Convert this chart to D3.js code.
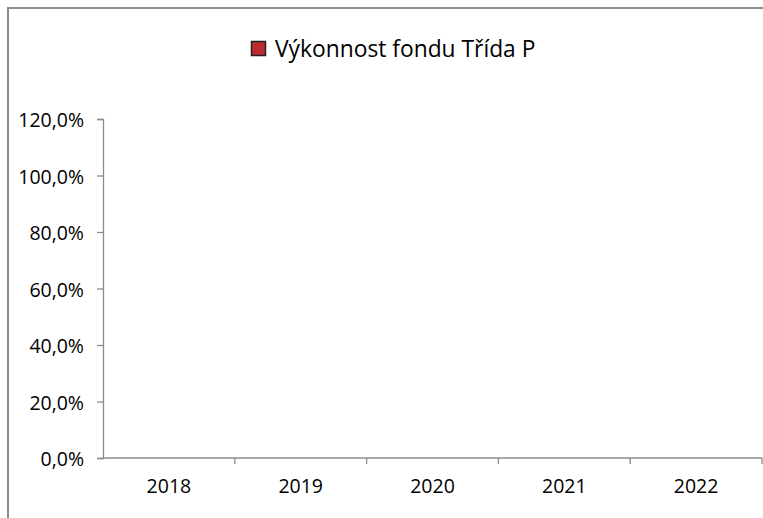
<!DOCTYPE html>
<html>
<head>
<meta charset="utf-8">
<script src="https://cdn.jsdelivr.net/npm/d3@7"></script>
<style>
  html, body { margin: 0; padding: 0; background: #fff; overflow: hidden; }
  svg { display: block; font-family: "Open Sans", sans-serif; }
</style>
</head>
<body>
<div id="chart"></div>
<script>
// Výkonnost fondu - empty column chart (no values shown in the reference)
const years = ["2018", "2019", "2020", "2021", "2022"];
const performance = [null, null, null, null, null];
const yTicks = [0, 0.2, 0.4, 0.6, 0.8, 1.0, 1.2];
const seriesName = "Výkonnost fondu Třída P";

const width = 763, height = 518;
const margin = {top: 119, right: 1, bottom: 60, left: 103};

const svg = d3.select("#chart").append("svg")
  .attr("width", width)
  .attr("height", height);

svg.append("rect")
  .attr("width", width)
  .attr("height", height)
  .attr("fill", "#fff");

// outer chart border: only the top and left edges are inside the picture
svg.append("path")
  .attr("d", `M8,${height} V8 H${width}`)
  .attr("fill", "none")
  .attr("stroke", "#8c8c8c")
  .attr("stroke-width", 2);

const x = d3.scaleBand()
  .domain(years)
  .range([margin.left, width - margin.right]);

const y = d3.scaleLinear()
  .domain([0, 1.2])
  .range([height - margin.bottom, margin.top]);

const fmt = v => d3.format(".1f")(v * 100).replace(".", ",") + "%";

// y axis
const yAxis = svg.append("g")
  .attr("transform", `translate(${margin.left},0)`)
  .call(d3.axisLeft(y).tickValues(yTicks).tickFormat(fmt).tickSize(6).tickPadding(13));
yAxis.select(".domain").attr("stroke", "#8c8c8c").attr("stroke-width", 1.3);
yAxis.selectAll(".tick line").attr("stroke", "#8c8c8c").attr("stroke-width", 1.3);
yAxis.selectAll(".tick text")
  .attr("fill", "#000")
  .attr("font-size", 19.5)
  .attr("font-family", "'Open Sans', sans-serif")
  .attr("dy", "0.4em");

// x axis: ticks at category boundaries, labels centred in each band
const xAxis = svg.append("g")
  .attr("transform", `translate(0,${y(0)})`);
xAxis.append("line")
  .attr("x1", margin.left)
  .attr("x2", width - margin.right)
  .attr("stroke", "#8c8c8c")
  .attr("stroke-width", 1.3);
const bounds = years.map(d => x(d)).concat([x(years[years.length - 1]) + x.bandwidth()]);
xAxis.selectAll(".xtick")
  .data(bounds.slice(1))
  .join("line")
  .attr("class", "xtick")
  .attr("x1", d => d)
  .attr("x2", d => d)
  .attr("y1", 0)
  .attr("y2", 6)
  .attr("stroke", "#8c8c8c")
  .attr("stroke-width", 1.3);
xAxis.selectAll(".xlabel")
  .data(years)
  .join("text")
  .attr("class", "xlabel")
  .attr("x", d => x(d) + x.bandwidth() / 2)
  .attr("y", 35)
  .attr("text-anchor", "middle")
  .attr("font-size", 19.5)
  .attr("fill", "#000")
  .text(d => d);

// bars (no values in the reference)
svg.selectAll(".bar")
  .data(years.map((d, i) => ({year: d, v: performance[i]})).filter(d => d.v != null))
  .join("rect")
  .attr("class", "bar")
  .attr("x", d => x(d.year) + x.bandwidth() * 0.2)
  .attr("width", x.bandwidth() * 0.6)
  .attr("y", d => y(d.v))
  .attr("height", d => y(0) - y(d.v))
  .attr("fill", "#c0282d");

// legend
const legend = svg.append("g").attr("transform", "translate(251,41)");
legend.append("rect")
  .attr("x", 0.5)
  .attr("y", 0.5)
  .attr("width", 14)
  .attr("height", 14)
  .attr("fill", "#be2a2e")
  .attr("stroke", "#222")
  .attr("stroke-width", 1.5);
legend.append("text")
  .attr("x", 24)
  .attr("y", 15.5)
  .attr("font-size", 22.8)
  .attr("fill", "#000")
  .text(seriesName);
</script>
</body>
</html>
